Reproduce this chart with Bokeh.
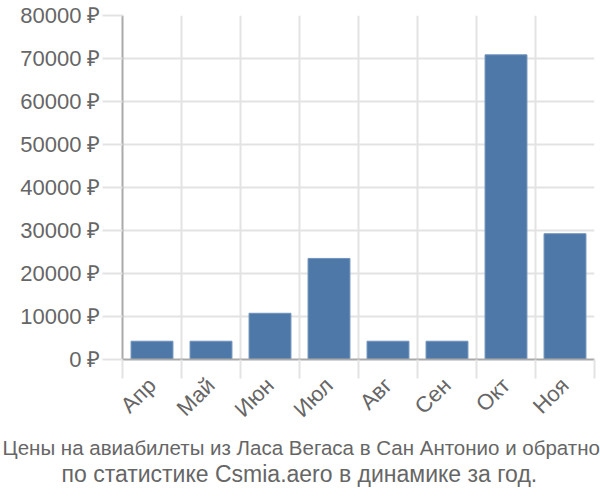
from bokeh.plotting import figure
from bokeh.models import Range1d, FixedTicker, LinearAxis, Grid, Title, PrintfTickFormatter
from bokeh.embed import file_html
from bokeh.resources import INLINE
import math

months = ["Апр", "Май", "Июн", "Июл", "Авг", "Сен", "Окт", "Ноя"]
prices = [4250, 4250, 10750, 23500, 4250, 4250, 70850, 29250]
y_ticks = [0, 10000, 20000, 30000, 40000, 50000, 60000, 70000, 80000]
title_line1 = "Цены на авиабилеты из Ласа Вегаса в Сан Антонио и обратно"
title_line2 = "по статистике Csmia.aero в динамике за год."

FONT = "Liberation Sans"
TXT = "#666666"
GRID = "#e3e3e3"
AXIS = "#aaaaaa"

centers = [i + 0.5 for i in range(len(months))]
bounds = list(range(len(months) + 1))

p = figure(width=600, height=500, output_backend="svg", toolbar_location=None,
           x_range=Range1d(0, len(months)), y_range=Range1d(0, 80000),
           x_axis_location=None, y_axis_location=None,
           min_border_left=122, min_border_right=6, min_border_top=15, min_border_bottom=141)
p.outline_line_color = None
p.background_fill_color = "white"
p.border_fill_color = "white"
p.xgrid.visible = False
p.ygrid.visible = False

# grids
p.add_layout(Grid(dimension=0, ticker=FixedTicker(ticks=bounds), grid_line_color=GRID, grid_line_width=2))
p.add_layout(Grid(dimension=1, ticker=FixedTicker(ticks=y_ticks[1:]), grid_line_color=GRID, grid_line_width=2))

# y axis
yax = LinearAxis(ticker=FixedTicker(ticks=y_ticks), formatter=PrintfTickFormatter(format="%d ₽"))
yax.axis_line_color = AXIS
yax.axis_line_width = 2
yax.major_tick_line_color = GRID
yax.major_tick_line_width = 2
yax.major_tick_out = 20
yax.major_tick_in = 0
yax.minor_tick_line_color = None
yax.major_label_text_font = FONT
yax.major_label_text_font_size = "22px"
yax.major_label_text_color = TXT
yax.major_label_standoff = 2
p.add_layout(yax, "left")

# x tick-mark axis (boundaries)
xt = LinearAxis(ticker=FixedTicker(ticks=bounds),
                major_label_overrides={b: "" for b in bounds})
xt.axis_line_color = AXIS
xt.axis_line_width = 2
xt.major_tick_line_color = GRID
xt.major_tick_line_width = 2
xt.major_tick_out = 19
xt.major_tick_in = 0
xt.minor_tick_line_color = None
xt.major_label_standoff = 0
p.add_layout(xt, "below")

# x label axis (centers)
xl = LinearAxis(ticker=FixedTicker(ticks=centers),
                major_label_overrides={c: m for c, m in zip(centers, months)})
xl.axis_line_color = None
xl.major_tick_line_color = None
xl.minor_tick_line_color = None
xl.major_label_orientation = math.pi / 4
xl.major_label_text_font = FONT
xl.major_label_text_font_size = "22px"
xl.major_label_text_color = TXT
xl.major_label_standoff = -3
p.add_layout(xl, "below")

p.vbar(x=centers, top=prices, width=0.71, bottom=0,
       fill_color="#4d78a7", line_color="#6f92bd", line_width=1)

t1 = Title(text=title_line1, align="left", offset=-120, text_font=FONT,
           text_font_size="20.5px", text_color=TXT, text_font_style="normal", standoff=0)
t2 = Title(text=title_line2, align="left", offset=-61, text_font=FONT,
           text_font_size="23px", text_color=TXT, text_font_style="normal", standoff=0)
p.add_layout(t1, "below")
p.add_layout(t2, "below")

open("out.html", "w").write(file_html(p, INLINE))
